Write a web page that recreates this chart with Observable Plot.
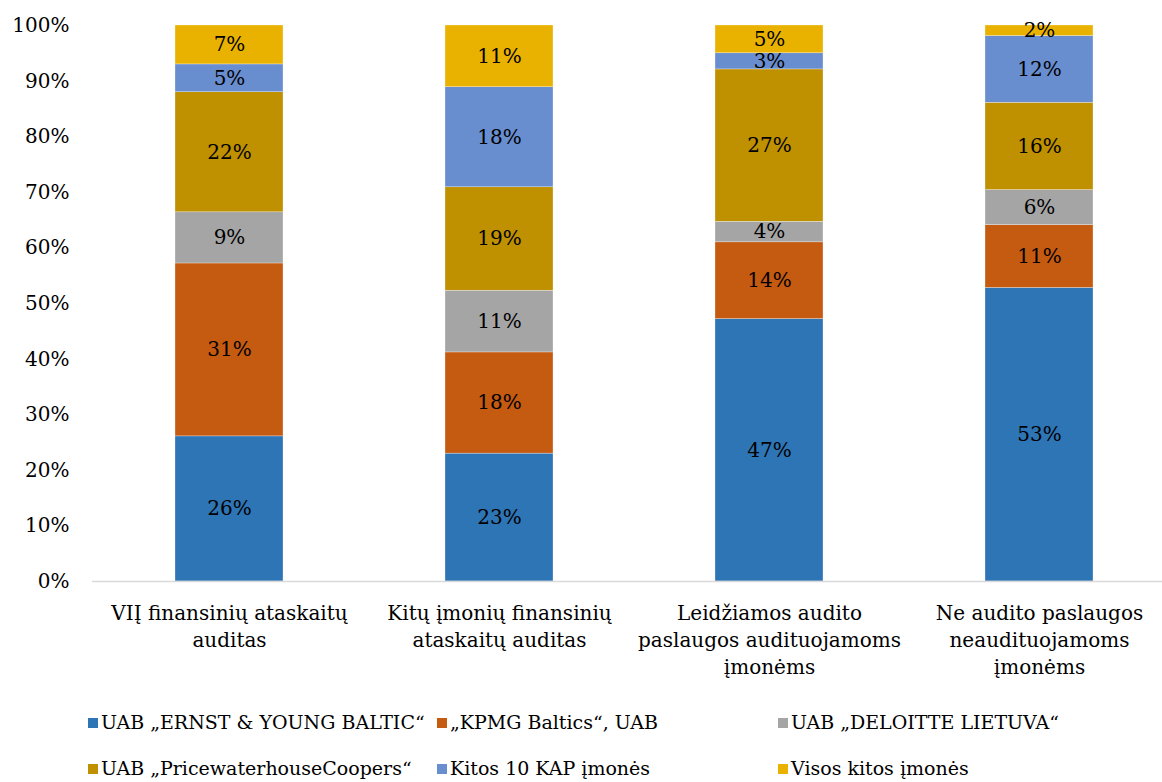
<!DOCTYPE html>
<html>
<head>
<meta charset="utf-8">
<script src="https://cdn.jsdelivr.net/npm/d3@7"></script>
<script src="https://cdn.jsdelivr.net/npm/@observablehq/plot@0.6"></script>
<style>
  body { margin: 0; background: #fff; }
  #wrap { position: relative; width: 1162px; height: 782px; font-family: "DejaVu Serif", serif; }
  .leg { position: absolute; font-size: 19px; color: #000; white-space: nowrap; line-height: 24px; }
  .leg span.sw { display: inline-block; width: 10px; height: 10px; margin-right: 3px; vertical-align: 1px; }
</style>
</head>
<body>
<div id="wrap"></div>
<script>
const categories = [
  "VIĮ finansinių ataskaitų\nauditas",
  "Kitų įmonių finansinių\nataskaitų auditas",
  "Leidžiamos audito\npaslaugos audituojamoms\nįmonėms",
  "Ne audito paslaugos\nneaudituojamoms\nįmonėms"
];
const series = [
  "UAB „ERNST & YOUNG BALTIC“",
  "„KPMG Baltics“, UAB",
  "UAB „DELOITTE LIETUVA“",
  "UAB „PricewaterhouseCoopers“",
  "Kitos 10 KAP įmonės",
  "Visos kitos įmonės"
];
const colors = ["#2E75B6", "#C55A11", "#A5A5A5", "#BF9000", "#698ED0", "#EAB200"];
const ernstYoung = [26.1, 23.0, 47.2, 52.8];
const kpmg = [31.1, 18.2, 13.8, 11.3];
const deloitte = [9.2, 11.1, 3.7, 6.3];
const pwc = [21.6, 18.6, 27.4, 15.7];
const kitos10 = [5.0, 18.0, 2.9, 12.0];
const visosKitos = [7.0, 11.1, 5.0, 1.9];
const yTicks = [0, 10, 20, 30, 40, 50, 60, 70, 80, 90, 100];

const seriesValues = [ernstYoung, kpmg, deloitte, pwc, kitos10, visosKitos];
const data = [];
categories.forEach((c, i) => {
  series.forEach((s, j) => data.push({category: c, series: s, value: seriesValues[j][i]}));
});

const font = "DejaVu Serif, serif";
const fs = 20;
const chart = Plot.plot({
  width: 1162,
  height: 700,
  marginLeft: 92,
  marginRight: 0,
  marginTop: 25,
  marginBottom: 119,
  style: {fontFamily: font, fontSize: fs + "px", color: "#000", background: "#fff"},
  x: {domain: categories, range: [92, 1175], paddingInner: 0.6, paddingOuter: 0.3, axis: null},
  y: {domain: [0, 100], axis: null, label: null},
  color: {domain: series, range: colors},
  marks: [
    Plot.barY(data, {x: "category", y: "value", fill: "series", order: series, stroke: "#fff", strokeWidth: 0.5, strokeOpacity: 0.6}),
    Plot.ruleY([0], {stroke: "#d9d9d9", strokeWidth: 1.5}),
    Plot.text(data, Plot.stackY({x: "category", y: "value", z: "series", order: series,
      text: d => Math.round(d.value) + "%", fill: "#000", fontSize: fs})),
    Plot.axisY({ticks: yTicks, tickFormat: d => d + "%", tickSize: 0, tickPadding: 23, fontSize: fs, label: null}),
    Plot.text(categories, {x: d => d, text: d => d, frameAnchor: "bottom", dy: 20, lineAnchor: "top",
      lineHeight: 1.33, fontSize: fs, fill: "#000"})
  ]
});
const wrap = document.getElementById("wrap");
wrap.appendChild(chart);

const legendPos = [[88, 710], [437, 710], [778, 710], [88, 756], [437, 756], [778, 756]];
series.forEach((s, i) => {
  const d = document.createElement("div");
  d.className = "leg";
  d.style.left = legendPos[i][0] + "px";
  d.style.top = legendPos[i][1] + "px";
  d.innerHTML = `<span class="sw" style="background:${colors[i]}"></span>` + s.replace(/&/g, "&amp;");
  wrap.appendChild(d);
});
</script>
</body>
</html>
